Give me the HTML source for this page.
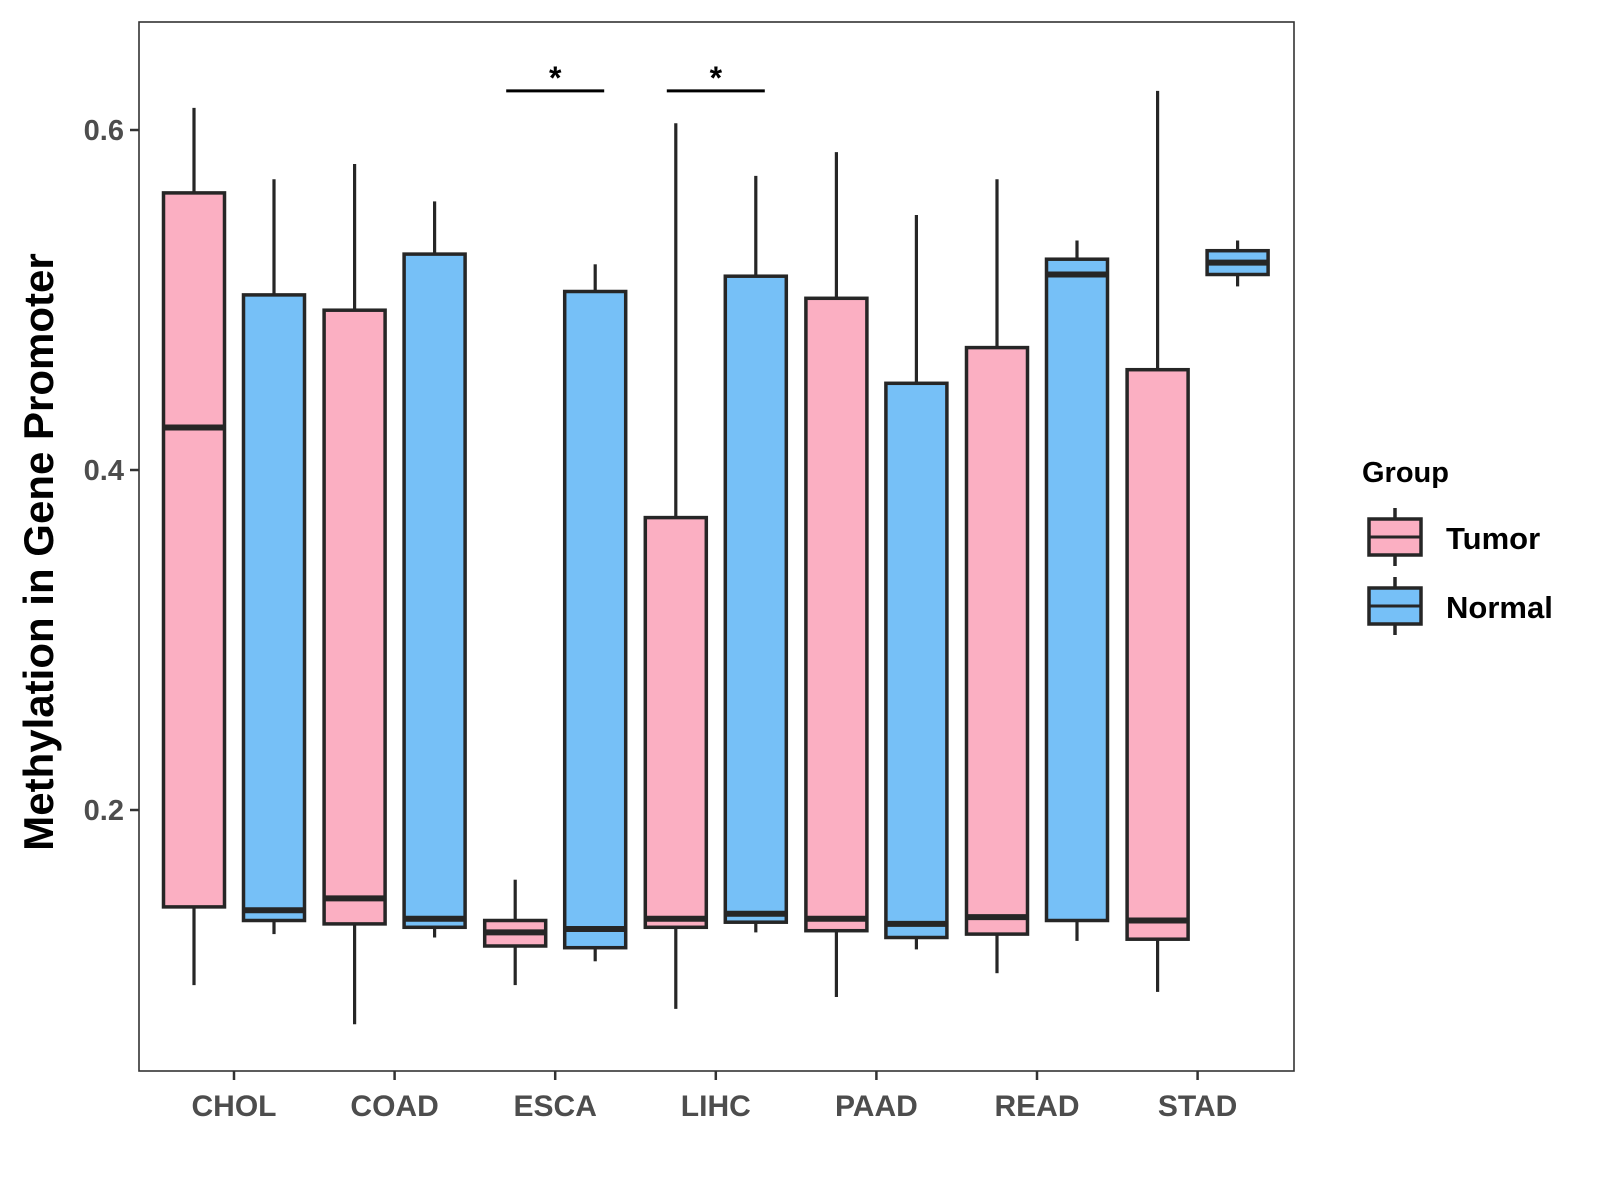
<!DOCTYPE html>
<html><head><meta charset="utf-8"><style>
html,body{margin:0;padding:0;background:#fff;}
svg{display:block;font-family:"Liberation Sans",Arial,sans-serif;}
</style></head><body>
<svg id="chart" width="1600" height="1200" viewBox="0 0 1600 1200">
<rect x="0" y="0" width="1600" height="1200" fill="#fff"/>
<g id="marks"></g>
<rect x="139" y="22" width="1155" height="1049" fill="none" stroke="#333" stroke-width="1.6"/>
<g id="axes"></g>
<text x="53" y="552" transform="rotate(-90 53 552)" text-anchor="middle" font-size="42" font-weight="bold" fill="#000">Methylation in Gene Promoter</text>
<g>
<text x="1362" y="482" font-size="29" font-weight="bold" fill="#000">Group</text>
<g>
<line x1="1395" y1="508" x2="1395" y2="566" stroke="#262626" stroke-width="3.5"/>
<rect x="1369" y="519" width="52" height="36" fill="#FBAFC2" stroke="#262626" stroke-width="3.5"/>
<line x1="1369" y1="537" x2="1421" y2="537" stroke="#262626" stroke-width="3"/>
<text x="1446" y="549" font-size="31" font-weight="bold" fill="#000">Tumor</text>
</g>
<g>
<line x1="1395" y1="577" x2="1395" y2="635" stroke="#262626" stroke-width="3.5"/>
<rect x="1369" y="588" width="52" height="36" fill="#76C0F7" stroke="#262626" stroke-width="3.5"/>
<line x1="1369" y1="606" x2="1421" y2="606" stroke="#262626" stroke-width="3"/>
<text x="1446" y="618" font-size="31" font-weight="bold" fill="#000">Normal</text>
</g>
</g>
</svg>
<script>
const categories = ["CHOL","COAD","ESCA","LIHC","PAAD","READ","STAD"];
// [whiskerLow, q1, median, q3, whiskerHigh]
const tumorStats = [
 [0.097,0.143,0.425,0.563,0.613],
 [0.074,0.133,0.148,0.494,0.580],
 [0.097,0.120,0.128,0.135,0.159],
 [0.083,0.131,0.136,0.372,0.604],
 [0.090,0.129,0.136,0.501,0.587],
 [0.104,0.127,0.137,0.472,0.571],
 [0.093,0.124,0.135,0.459,0.623]
];
const normalStats = [
 [0.127,0.135,0.141,0.503,0.571],
 [0.125,0.131,0.136,0.527,0.558],
 [0.111,0.119,0.130,0.505,0.521],
 [0.128,0.134,0.139,0.514,0.573],
 [0.118,0.125,0.133,0.451,0.550],
 [0.123,0.135,0.515,0.524,0.535],
 [0.508,0.515,0.522,0.529,0.535]
];
const yTicks = [0.2,0.4,0.6];
const yTickLabels = ["0.2","0.4","0.6"];
const sigCategories = ["ESCA","LIHC"];
const sigValue = 0.623;
const sigLabels = ["*","*"];

const NS="http://www.w3.org/2000/svg";
const y = v => 470 - (v-0.4)*1700;
const x = i => 234 + i*160.6;
const marks=document.getElementById('marks'), axes=document.getElementById('axes');
function mk(tag,attrs,parent){const e=document.createElementNS(NS,tag);for(const k in attrs)e.setAttribute(k,attrs[k]);parent.appendChild(e);return e;}
function drawBox(cx,s,fill,name){
  const g=mk('g',{},marks);
  
  
  const hw=30.5;
  mk('line',{x1:cx,x2:cx,y1:y(s[4]),y2:y(s[3]),stroke:'#262626','stroke-width':3.2},g);
  mk('line',{x1:cx,x2:cx,y1:y(s[1]),y2:y(s[0]),stroke:'#262626','stroke-width':3.2},g);
  mk('rect',{x:cx-hw,y:y(s[3]),width:2*hw,height:y(s[1])-y(s[3]),fill:fill,stroke:'#262626','stroke-width':3.5},g);
  mk('line',{x1:cx-hw,x2:cx+hw,y1:y(s[2]),y2:y(s[2]),stroke:'#262626','stroke-width':6},g);
}
categories.forEach((c,i)=>{
  drawBox(x(i)-40,tumorStats[i],'#FBAFC2','box-tumor-'+c.toLowerCase());
  drawBox(x(i)+40,normalStats[i],'#76C0F7','box-normal-'+c.toLowerCase());
  mk('line',{x1:x(i),x2:x(i),y1:1071,y2:1080,stroke:'#333','stroke-width':2.5},axes);
  const t=mk('text',{x:x(i),y:1116,'text-anchor':'middle','font-size':30,'font-weight':'bold',fill:'#4d4d4d'},axes);
  t.textContent=c;
  
  
});
yTicks.forEach((v,i)=>{
  mk('line',{x1:130,x2:139,y1:y(v),y2:y(v),stroke:'#333','stroke-width':2.5},axes);
  const t=mk('text',{x:124,y:y(v)+10,'text-anchor':'end','font-size':29,'font-weight':'bold',fill:'#4d4d4d'},axes);
  t.textContent=yTickLabels[i];
  
  
});
sigCategories.forEach((c,k)=>{
  const i=categories.indexOf(c);
  const l=mk('line',{x1:x(i)-49,x2:x(i)+49,y1:y(sigValue),y2:y(sigValue),stroke:'#000','stroke-width':3},marks);
  
  
  const t=mk('text',{x:x(i),y:y(sigValue)-2,'text-anchor':'middle','font-size':32,'font-weight':'bold',fill:'#000'},marks);
  t.textContent=sigLabels[k];
  
  
});
</script>
</body></html>
